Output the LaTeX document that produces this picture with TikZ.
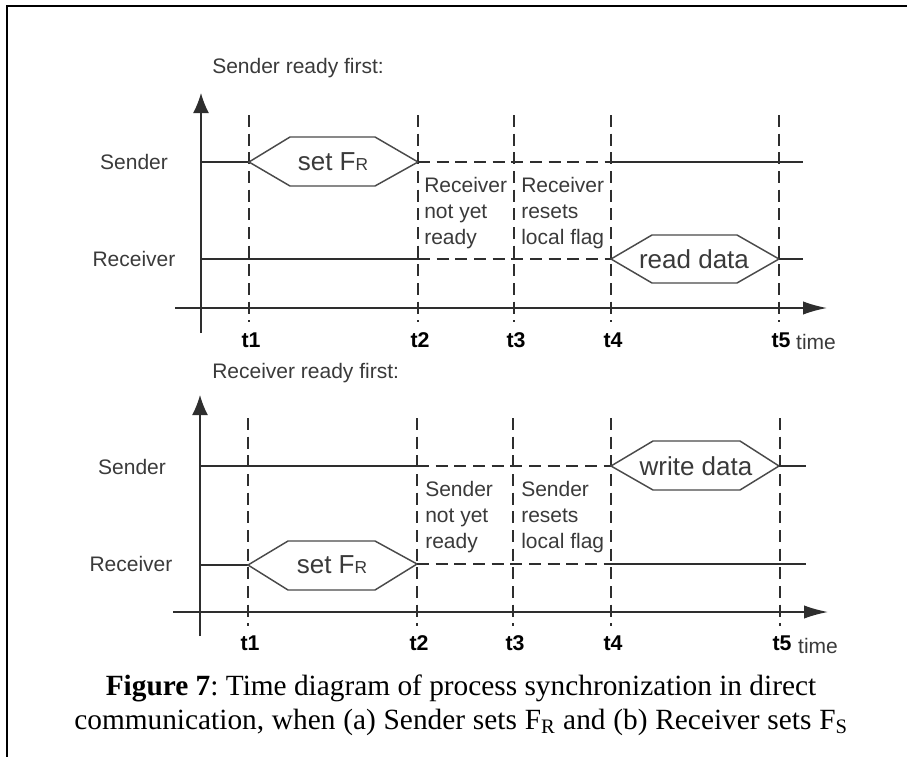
\documentclass[tikz,border=0pt]{standalone}
\usepackage{fontspec}
\setmainfont{Liberation Serif}
\setsansfont{Liberation Sans}
\usetikzlibrary{arrows.meta}
\definecolor{linec}{HTML}{2E2E2E}
\definecolor{hexc}{HTML}{4A4A4A}
\definecolor{textc}{HTML}{3A3A3A}
\newcommand\labfont{\sffamily\fontsize{15.75}{19.5}\selectfont}
\newcommand\hexfont{\sffamily\fontsize{19.5}{23}\selectfont}
\newcommand\tfont{\sffamily\bfseries\fontsize{16}{19}\selectfont}
\newcommand\capfont{\rmfamily\frenchspacing\fontsize{22}{25.5}\selectfont}
\tikzset{
  x=0.75pt, y=-0.75pt,
  ln/.style={draw=linec, line width=1.1pt},
  dln/.style={ln, dash pattern=on 9pt off 5pt},
  vdash/.style={draw=linec, line width=1.1pt, dash pattern=on 9pt off 5pt},
  hexb/.style={draw=hexc, line width=1.1pt},
  lab/.style={font=\labfont, text=textc, inner sep=0pt},
  hexlab/.style={font=\hexfont, text=textc, inner sep=0pt},
  tlab/.style={font=\tfont, text=black, inner sep=0pt},
  note/.style={font=\labfont, text=textc, inner sep=0pt, align=left, anchor=north west},
  yarrow/.style={ln, -{Latex[length=15pt,width=12pt]}},
  xarrow/.style={ln, -{Latex[length=18pt,width=10pt]}},
}
\begin{document}
\begin{tikzpicture}
\useasboundingbox (0,0) rectangle (907,757);
% frame
\coordinate (fr1) at (907,6);
\coordinate (fr2) at (7,6);
\coordinate (fr3) at (7,757);
\draw[draw=black, line width=0.9pt] (fr1) -- (fr2) -- (fr3);

% ===== (a) Sender ready first =====
\node[lab, anchor=west] (titA) at (212,68) {Sender ready first:};
\coordinate (ayb) at (201,333);
\coordinate (ayt) at (201,93);
\draw[yarrow] (ayb) -- (ayt);
\coordinate (axl) at (175,308);
\coordinate (axr) at (827,308);
\draw[xarrow] (axl) -- (axr);
\foreach \i/\x in {1/249,2/418,3/514,4/611,5/779}{
  \coordinate (at\i) at (\x,115);
  \coordinate (ab\i) at (\x,322);
  \draw[vdash] (at\i) -- (ab\i);
  \node[tlab] (atl\i) at (\x+2,340) {t\i};
}
\node[lab] (atime) at (816,342) {time};
\node[lab] (asnd) at (134,162) {Sender};
\node[lab] (arcv) at (134,259) {Receiver};
% sender line
\coordinate (as0) at (201,162);
\coordinate (as1) at (249,162);
\coordinate (as2) at (418,162);
\coordinate (as4) at (611,162);
\coordinate (as6) at (803,162);
\draw[ln] (as0) -- (as1);
\draw[hexb] (as1) -- (290,137) -- (375,137) -- (as2) -- (375,186) -- (290,186) -- cycle;
\node[hexlab] (asetf) at (333,162) {set F{\fontsize{13}{15}\selectfont R}};
\draw[dln] (as2) -- (as4);
\draw[ln] (as4) -- (as6);
% receiver line
\coordinate (ar0) at (201,259);
\coordinate (ar2) at (418,259);
\coordinate (ar4) at (611,259);
\coordinate (ar5) at (779,259);
\coordinate (ar6) at (803,259);
\draw[ln] (ar0) -- (ar2);
\draw[dln] (ar2) -- (ar4);
\draw[hexb] (ar4) -- (652,235) -- (737,235) -- (ar5) -- (737,283) -- (652,283) -- cycle;
\node[hexlab] (aread) at (694,259) {read data};
\draw[ln] (ar5) -- (ar6);
\node[note] (an1) at (424,177) {Receiver\\not yet\\ready};
\node[note] (an2) at (521,177) {Receiver\\resets\\local flag};

% ===== (b) Receiver ready first =====
\node[lab, anchor=west] (titB) at (212,373) {Receiver ready first:};
\coordinate (byb) at (200,636);
\coordinate (byt) at (200,395);
\draw[yarrow] (byb) -- (byt);
\coordinate (bxl) at (173,612);
\coordinate (bxr) at (828,612);
\draw[xarrow] (bxl) -- (bxr);
\foreach \i/\x in {1/248,2/417,3/513,4/611,5/780}{
  \coordinate (bt\i) at (\x,418);
  \coordinate (bb\i) at (\x,626);
  \draw[vdash] (bt\i) -- (bb\i);
  \node[tlab] (btl\i) at (\x+2,643) {t\i};
}
\node[lab] (btime) at (818,646) {time};
\node[lab] (bsnd) at (132,467) {Sender};
\node[lab] (brcv) at (131,564) {Receiver};
% sender line
\coordinate (bs0) at (200,466);
\coordinate (bs2) at (417,466);
\coordinate (bs4) at (611,466);
\coordinate (bs5) at (779,466);
\coordinate (bs6) at (806,466);
\draw[ln] (bs0) -- (bs2);
\draw[dln] (bs2) -- (bs4);
\draw[hexb] (bs4) -- (653,441) -- (740,441) -- (bs5) -- (740,490) -- (653,490) -- cycle;
\node[hexlab] (bwrite) at (696,466) {write data};
\draw[ln] (bs5) -- (bs6);
% receiver line
\coordinate (br0) at (200,565);
\coordinate (br1) at (248,565);
\coordinate (br2) at (417,564);
\coordinate (br4) at (611,564);
\coordinate (br6) at (806,564);
\draw[ln] (br0) -- (br1);
\draw[hexb] (br1) -- (288,541) -- (375,541) -- (br2) -- (375,590) -- (288,590) -- cycle;
\node[hexlab] (bsetf) at (332,565) {set F{\fontsize{13}{15}\selectfont R}};
\draw[dln] (br2) -- (br4);
\draw[ln] (br4) -- (br6);
\node[note] (bn1) at (425,481) {Sender\\not yet\\ready};
\node[note] (bn2) at (521,481) {Sender\\resets\\local flag};

% caption
\node[font=\capfont, align=center, inner sep=0pt, anchor=base] (cap) at (461,729)
  {\textbf{Figure 7}: Time diagram of process synchronization in direct\\
   \makebox[580pt][s]{communication, when (a) Sender sets F\textsubscript{R} and (b) Receiver sets F\textsubscript{S}}};
\end{tikzpicture}
\end{document}
